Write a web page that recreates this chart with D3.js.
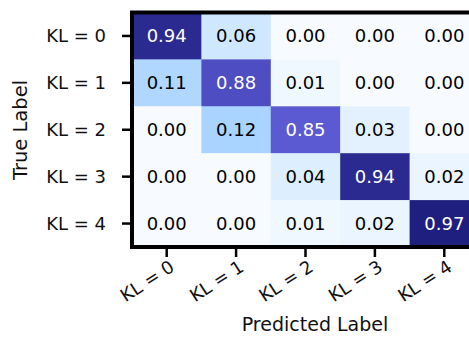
<!DOCTYPE html>
<html>
<head>
<meta charset="utf-8">
<script src="https://cdn.jsdelivr.net/npm/d3@7"></script>
<style>
  body { margin: 0; background: #fff; }
  svg { display: block; font-family: 'DejaVu Sans', sans-serif; }
</style>
</head>
<body>
<div class="chart"></div>
<script>
var trueLabels = ['KL = 0', 'KL = 1', 'KL = 2', 'KL = 3', 'KL = 4'];
var predLabels = ['KL = 0', 'KL = 1', 'KL = 2', 'KL = 3', 'KL = 4'];

// rows = true label, cols = predicted label
var row0 = [0.94, 0.06, 0.00, 0.00, 0.00];
var row1 = [0.11, 0.88, 0.01, 0.00, 0.00];
var row2 = [0.00, 0.12, 0.85, 0.03, 0.00];
var row3 = [0.00, 0.00, 0.04, 0.94, 0.02];
var row4 = [0.00, 0.00, 0.01, 0.02, 0.97];
var matrix = [row0, row1, row2, row3, row4];

var width = 469, height = 337;

var svg = d3.select('.chart')
    .append('svg')
    .attr('width', width)
    .attr('height', height);

var x = d3.scaleBand()
    .domain(predLabels)
    .range([132, 479]);

var y = d3.scaleBand()
    .domain(trueLabels)
    .range([12.5, 247]);

var color = d3.scaleLinear()
    .domain([0, 0.12, 0.86, 0.96])
    .range(['#f7fbff', '#a8d4ff', '#5a58d1', '#1f1f80'])
    .clamp(true);

var cells = [];
matrix.forEach(function(row, i) {
    row.forEach(function(v, j) {
        cells.push({ t: trueLabels[i], p: predLabels[j], v: v });
    });
});

svg.selectAll('.cell')
    .data(cells)
    .enter()
    .append('rect')
    .attr('class', 'cell')
    .attr('x', function(d) { return x(d.p); })
    .attr('y', function(d) { return y(d.t); })
    .attr('width', x.bandwidth() + 0.5)
    .attr('height', y.bandwidth() + 0.5)
    .attr('fill', function(d) { return color(d.v); });

svg.selectAll('.val')
    .data(cells)
    .enter()
    .append('text')
    .attr('class', 'val')
    .attr('x', function(d) { return x(d.p) + x.bandwidth() / 2; })
    .attr('y', function(d) { return y(d.t) + y.bandwidth() / 2; })
    .attr('dy', '0.36em')
    .attr('text-anchor', 'middle')
    .attr('font-size', 18)
    .attr('fill', function(d) { return d.v > 0.5 ? '#fff' : '#000'; })
    .text(function(d) { return d.v.toFixed(2); });

// frame
svg.append('rect')
    .attr('x', 132)
    .attr('y', 12.5)
    .attr('width', 347)
    .attr('height', 234.5)
    .attr('fill', 'none')
    .attr('stroke', '#000')
    .attr('stroke-width', 4);

// y ticks + labels
var yg = svg.append('g');
yg.selectAll('line')
    .data(trueLabels)
    .enter()
    .append('line')
    .attr('x1', 122)
    .attr('x2', 131)
    .attr('y1', function(d) { return y(d) + y.bandwidth() / 2; })
    .attr('y2', function(d) { return y(d) + y.bandwidth() / 2; })
    .attr('stroke', '#000')
    .attr('stroke-width', 2.5);

yg.selectAll('text')
    .data(trueLabels)
    .enter()
    .append('text')
    .attr('x', 106)
    .attr('y', function(d) { return y(d) + y.bandwidth() / 2; })
    .attr('dy', '0.36em')
    .attr('text-anchor', 'end')
    .attr('font-size', 18)
    .attr('fill', '#111')
    .text(function(d) { return d; });

// x ticks + labels
var xg = svg.append('g');
xg.selectAll('line')
    .data(predLabels)
    .enter()
    .append('line')
    .attr('x1', function(d) { return x(d) + x.bandwidth() / 2; })
    .attr('x2', function(d) { return x(d) + x.bandwidth() / 2; })
    .attr('y1', 248)
    .attr('y2', 257)
    .attr('stroke', '#000')
    .attr('stroke-width', 2.5);

xg.selectAll('text')
    .data(predLabels)
    .enter()
    .append('text')
    .attr('transform', function(d) {
        return 'translate(' + (x(d) + x.bandwidth() / 2 + 9) + ',270) rotate(-33)';
    })
    .attr('text-anchor', 'end')
    .attr('font-size', 18)
    .attr('fill', '#111')
    .text(function(d) { return d; });

// axis titles
svg.append('text')
    .attr('transform', 'translate(27,130) rotate(-90)')
    .attr('text-anchor', 'middle')
    .attr('font-size', 19.5)
    .attr('fill', '#111')
    .text('True Label');

svg.append('text')
    .attr('x', 315)
    .attr('y', 331)
    .attr('text-anchor', 'middle')
    .attr('font-size', 19)
    .attr('fill', '#111')
    .text('Predicted Label');
</script>
</body>
</html>
